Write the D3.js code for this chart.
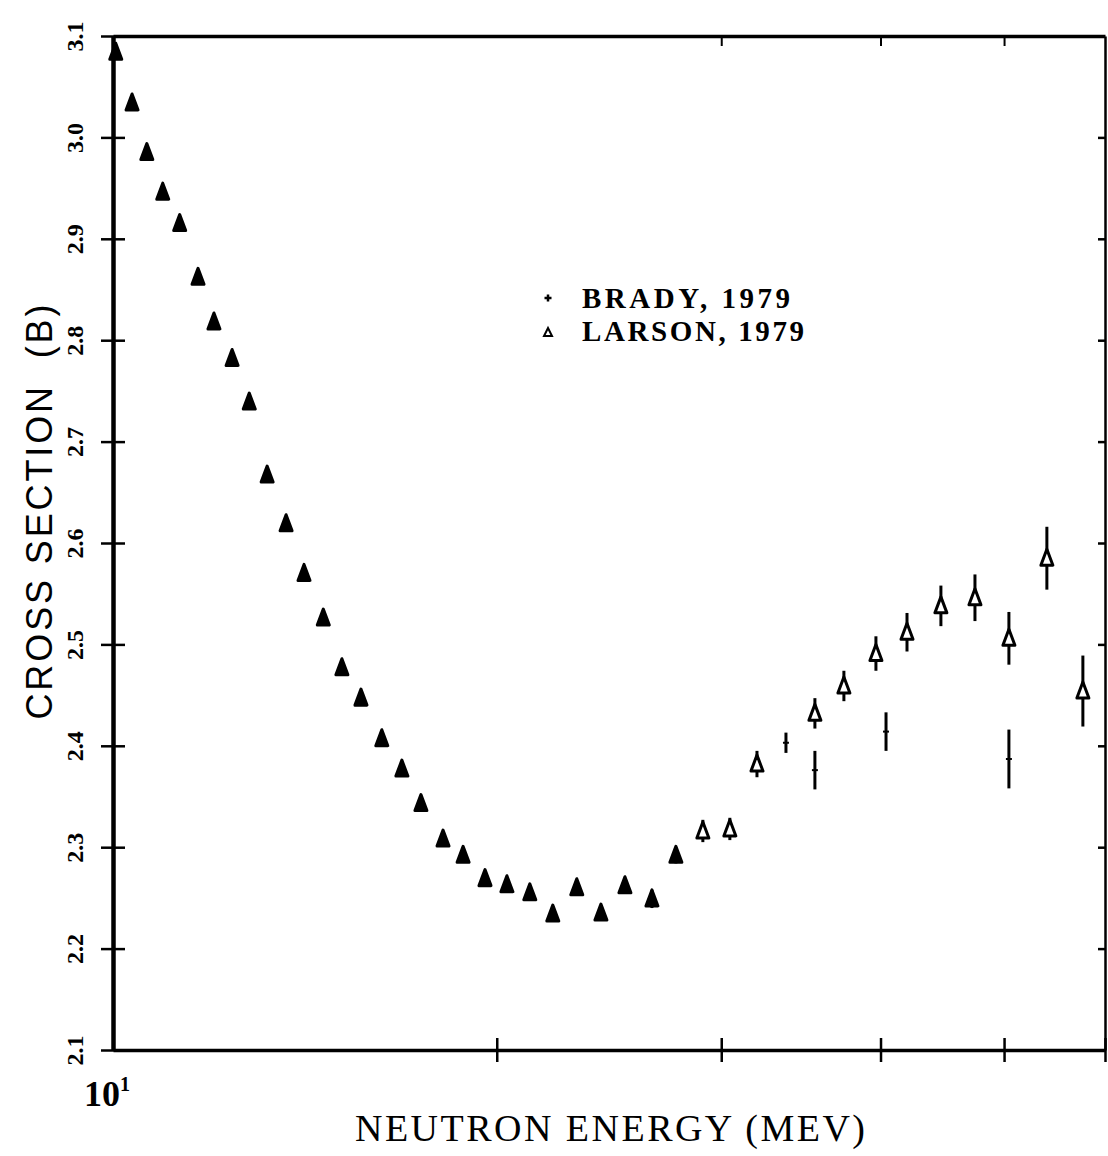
<!DOCTYPE html>
<html>
<head>
<meta charset="utf-8">
<script src="https://cdn.jsdelivr.net/npm/d3@7"></script>
<style>
  body { margin: 0; background: #fff; }
  .axis path, .axis line { stroke: #000; }
</style>
</head>
<body>
<div id="plot"></div>
<script>
// Larson, 1979 (triangles)
var larsonE = [10.05, 10.35, 10.63, 10.94, 11.28, 11.66, 12.00, 12.40, 12.79, 13.21,
               13.67, 14.12, 14.62, 15.12, 15.65, 16.25, 16.85, 17.44, 18.15, 18.82,
               19.58, 20.37, 21.23, 22.13, 23.11, 24.14, 25.21, 26.47, 27.64, 29.02,
               30.47, 32.00, 35.53, 37.44, 39.67, 41.96, 44.61, 47.44, 50.44, 54.02, 57.65];
var larsonSigma = [3.084, 3.034, 2.985, 2.946, 2.915, 2.862, 2.818, 2.782, 2.739, 2.667,
                   2.619, 2.570, 2.526, 2.477, 2.447, 2.407, 2.377, 2.343, 2.308, 2.292,
                   2.269, 2.263, 2.255, 2.234, 2.260, 2.235, 2.262, 2.249, 2.292, 2.316,
                   2.318, 2.382, 2.432, 2.459, 2.491, 2.512, 2.538, 2.546, 2.506, 2.585, 2.454];
var larsonErr = [0.004, 0.004, 0.004, 0.004, 0.004, 0.004, 0.004, 0.004, 0.004, 0.004,
                 0.004, 0.004, 0.004, 0.005, 0.005, 0.005, 0.005, 0.005, 0.005, 0.005,
                 0.006, 0.006, 0.006, 0.006, 0.006, 0.006, 0.007, 0.009, 0.008, 0.011,
                 0.011, 0.013, 0.015, 0.015, 0.017, 0.019, 0.020, 0.023, 0.026, 0.031, 0.035];

// Brady, 1979 (plus signs)
var bradyE = [33.72, 35.53, 40.40, 50.44];
var bradySigma = [2.403, 2.376, 2.414, 2.387];
var bradyErr = [0.010, 0.019, 0.019, 0.029];

var xTicks = [20, 30, 40, 50, 60];
var yTicks = [2.1, 2.2, 2.3, 2.4, 2.5, 2.6, 2.7, 2.8, 2.9, 3.0, 3.1];
var legendLabels = ["BRADY, 1979", "LARSON, 1979"];

var width = 1108, height = 1156;
var margin = {top: 36, right: 3, bottom: 106, left: 113};
var serif = "'Liberation Serif', 'DejaVu Serif', serif";

var svg = d3.select("#plot").append("svg")
    .attr("width", width)
    .attr("height", height);

var xScale = d3.scaleLog()
    .domain([10, 60])
    .range([margin.left, width - margin.right]);
var yScale = d3.scaleLinear()
    .domain([2.1, 3.1])
    .range([height - margin.bottom, margin.top]);

var larson = larsonE.map((e, i) => ({x: e, y: larsonSigma[i], err: larsonErr[i]}));
var brady = bradyE.map((e, i) => ({x: e, y: bradySigma[i], err: bradyErr[i]}));

var x0 = xScale.range()[0], x1 = xScale.range()[1],
    y0 = yScale.range()[0], y1 = yScale.range()[1];

// bottom axis, ticks crossing the line
var gX = svg.append("g")
    .attr("class", "x axis")
    .attr("transform", "translate(0," + y0 + ")")
    .call(d3.axisBottom(xScale).tickValues(xTicks).tickFormat("").tickSize(12).tickSizeOuter(0));
gX.select(".domain").attr("stroke-width", 3.5);
gX.selectAll(".tick line").attr("stroke-width", 2.5).attr("y1", -12);

// top axis
var gTop = svg.append("g")
    .attr("class", "x axis")
    .attr("transform", "translate(0," + y1 + ")")
    .call(d3.axisBottom(xScale).tickValues([30, 40, 50]).tickFormat("").tickSize(10).tickSizeOuter(0));
gTop.select(".domain").attr("stroke-width", 3.5);
gTop.selectAll(".tick line").attr("stroke-width", 2);

// left axis; labels drawn rotated
var gY = svg.append("g")
    .attr("class", "y axis")
    .attr("transform", "translate(" + x0 + ",0)")
    .call(d3.axisLeft(yScale).tickValues(yTicks).tickFormat("").tickSize(12).tickSizeOuter(0));
gY.select(".domain").attr("stroke-width", 4.5);
gY.selectAll(".tick line").attr("stroke-width", 2.5).attr("x2", -12).attr("x1", 12);
gY.selectAll(".tick text").remove();
gY.selectAll(".tick").append("text")
    .attr("transform", "rotate(-90)")
    .attr("x", 0)
    .attr("y", -30)
    .attr("text-anchor", "middle")
    .style("font-family", serif)
    .style("font-weight", "bold")
    .style("font-size", "24px")
    .style("fill", "#000")
    .text(d => d3.format(".1f")(d));

// right axis, small inward ticks
var gR = svg.append("g")
    .attr("class", "y axis")
    .attr("transform", "translate(" + x1 + ",0)")
    .call(d3.axisLeft(yScale).tickValues(yTicks.slice(1, -1)).tickFormat("").tickSize(0).tickSizeOuter(0));
gR.select(".domain").attr("stroke-width", 2.5);
gR.selectAll(".tick line").attr("x2", -7).attr("stroke-width", 2.5);

// 10^1 label at the left end
var lab = svg.append("text")
    .attr("x", x0 - 6)
    .attr("y", y0 + 56)
    .attr("text-anchor", "middle")
    .style("font-family", serif)
    .style("font-weight", "bold")
    .style("font-size", "36px");
lab.append("tspan").text("10");
lab.append("tspan").attr("dy", -15).style("font-size", "20px").text("1");

// axis titles
svg.append("text")
    .attr("x", (x0 + x1) / 2 + 1)
    .attr("y", y0 + 91)
    .attr("text-anchor", "middle")
    .style("font-family", serif)
    .style("font-size", "38px")
    .attr("textLength", 510)
    .attr("lengthAdjust", "spacing")
    .text("NEUTRON ENERGY (MEV)");

svg.append("text")
    .attr("transform", "translate(52,512) rotate(-90)")
    .attr("text-anchor", "middle")
    .style("font-family", "'Liberation Sans', Arial, sans-serif")
    .style("font-size", "36px")
    .style("white-space", "pre")
    .attr("textLength", 415)
    .attr("lengthAdjust", "spacing")
    .text("CROSS SECTION  (B)");

// markers
var triangle = "M0,-9L6,7L-6,7Z";

var gData = svg.append("g");

gData.selectAll(".larson-err")
  .data(larson)
  .enter().append("line")
    .attr("class", "larson-err")
    .attr("x1", d => xScale(d.x)).attr("x2", d => xScale(d.x))
    .attr("y1", d => yScale(d.y + d.err)).attr("y2", d => yScale(d.y - d.err))
    .attr("stroke", "#000")
    .attr("stroke-width", 3);

gData.selectAll(".larson")
  .data(larson)
  .enter().append("path")
    .attr("class", "larson")
    .attr("d", triangle)
    .attr("transform", d => "translate(" + xScale(d.x) + "," + yScale(d.y) + ")")
    .attr("fill", d => d.err < 0.01 ? "#000" : "#fff")
    .attr("stroke", "#000")
    .attr("stroke-width", 3)
    .attr("stroke-linejoin", "round");

gData.selectAll(".brady-err")
  .data(brady)
  .enter().append("line")
    .attr("class", "brady-err")
    .attr("x1", d => xScale(d.x)).attr("x2", d => xScale(d.x))
    .attr("y1", d => yScale(d.y + d.err)).attr("y2", d => yScale(d.y - d.err))
    .attr("stroke", "#000")
    .attr("stroke-width", 3);

gData.selectAll(".brady")
  .data(brady)
  .enter().append("line")
    .attr("class", "brady")
    .attr("x1", d => xScale(d.x) - 3).attr("x2", d => xScale(d.x) + 3)
    .attr("y1", d => yScale(d.y)).attr("y2", d => yScale(d.y))
    .attr("stroke", "#000")
    .attr("stroke-width", 2);

// legend
var legend = svg.append("g")
    .attr("transform", "translate(548,298)");

legend.append("path")
    .attr("d", "M-3.5,0H3.5M0,-3.5V3.5")
    .attr("stroke", "#000")
    .attr("stroke-width", 2.5);
legend.append("path")
    .attr("d", "M0,-4L4,4L-4,4Z")
    .attr("transform", "translate(0,34)")
    .attr("fill", "none")
    .attr("stroke", "#000")
    .attr("stroke-width", 2);

legend.selectAll(".leg-text")
  .data(legendLabels)
  .enter().append("text")
    .attr("class", "leg-text")
    .attr("x", 34)
    .attr("y", (d, i) => 10 + i * 33)
    .style("font-family", serif)
    .style("font-weight", "bold")
    .style("font-size", "29px")
    .attr("textLength", (d, i) => i === 0 ? 208 : 222)
    .attr("lengthAdjust", "spacing")
    .text(d => d);
</script>
</body>
</html>
